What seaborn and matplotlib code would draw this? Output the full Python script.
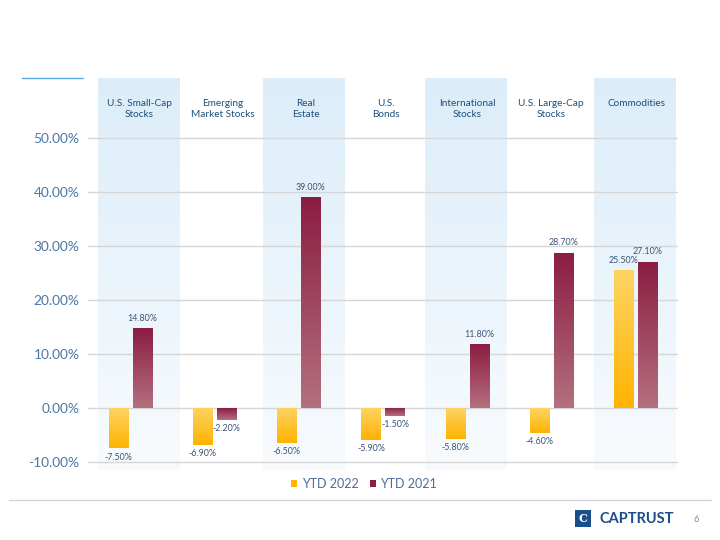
import numpy as np
import pandas as pd
import matplotlib
matplotlib.use("Agg")
import matplotlib.pyplot as plt
from matplotlib.patches import Rectangle, Patch
from matplotlib.lines import Line2D
from matplotlib.colors import to_rgba
import seaborn as sns

# ---------------- data ----------------
categories = ["U.S. Small-Cap\nStocks", "Emerging\nMarket Stocks", "Real\nEstate",
              "U.S.\nBonds", "International\nStocks", "U.S. Large-Cap\nStocks", "Commodities"]
series_names = ["YTD 2022", "YTD 2021"]
ytd_2022 = [-7.5, -6.9, -6.5, -5.9, -5.8, -4.6, 25.5]
ytd_2021 = [14.8, -2.2, 39.0, -1.5, 11.8, 28.7, 27.1]
y_ticks = [-10, 0, 10, 20, 30, 40, 50]

df = pd.DataFrame({
    "category": categories * 2,
    "series": [series_names[0]] * len(categories) + [series_names[1]] * len(categories),
    "value": ytd_2022 + ytd_2021,
})

# ---------------- style ----------------
sns.set_theme(style="white")
plt.rcParams["font.family"] = ["Lato", "DejaVu Sans"]

W, H = 720, 540
fig = plt.figure(figsize=(7.2, 5.4), dpi=100)
fig.patch.set_facecolor("white")

def fx(px):
    return px / W

def fy(py):
    return 1 - py / H

ax_left, ax_right, ax_top, ax_bottom = 88, 678, 78, 470
ax = fig.add_axes([fx(ax_left), fy(ax_bottom), fx(ax_right - ax_left), (ax_bottom - ax_top) / H])
ax.set_facecolor("none")

yellow_top, yellow_bot = "#FDD464", "#FFB300"
maroon_top, maroon_bot = "#8A1D42", "#B4707F"
palette = {series_names[0]: yellow_bot, series_names[1]: maroon_top}

sns.barplot(data=df, x="category", y="value", hue="series", palette=palette,
            width=0.57, gap=0.2, ax=ax, legend=False, saturation=1, zorder=3)

# y scale: 50% at py=138, -10% at py=462
px_per_unit = (462 - 138) / 60.0
y_max = 50 + (138 - ax_top) / px_per_unit
y_min = -10 - (ax_bottom - 462) / px_per_unit
ax.set_ylim(y_min, y_max)
ax.set_xlim(-0.5, len(categories) - 0.5)

# gradient fills on bars
grad_colors = [(yellow_top, yellow_bot), (maroon_top, maroon_bot)]
for cont, (ctop, cbot) in zip(ax.containers, grad_colors):
    t = np.linspace(0, 1, 256)[:, None]
    c0, c1 = np.array(to_rgba(ctop)), np.array(to_rgba(cbot))
    img = (c0[None, :] * (1 - t) + c1[None, :] * t)[:, None, :]
    for bar in cont:
        x0, w = bar.get_x(), bar.get_width()
        y0, h = bar.get_y(), bar.get_height()
        lo, hi = min(y0, y0 + h), max(y0, y0 + h)
        im = ax.imshow(img, extent=(x0, x0 + w, lo, hi), origin="upper",
                       aspect="auto", zorder=3, interpolation="bilinear")
        im.set_clip_path(bar)
        bar.set_facecolor("none")
        bar.set_edgecolor("none")

ax.set_ylim(y_min, y_max)
ax.set_xlim(-0.5, len(categories) - 0.5)

# value labels
label_color = "#3A5476"
for cont in ax.containers:
    for bar in cont:
        v = bar.get_height()
        xc = bar.get_x() + bar.get_width() / 2
        if v >= 0:
            ax.annotate(f"{v:.2f}%", (xc, v), xytext=(0, 4), textcoords="offset points",
                        ha="center", va="bottom", fontsize=6.4, color=label_color, zorder=5)
        else:
            ax.annotate(f"{v:.2f}%", (xc, v), xytext=(0, -3), textcoords="offset points",
                        ha="center", va="top", fontsize=6.4, color=label_color, zorder=5)

# alternating light-blue header bands (axes coords)
band_grad = np.linspace(0, 1, 256)[:, None]
b0, b1 = np.array(to_rgba("#DCEDF9")), np.array(to_rgba("#F8FBFE"))
band_img = (b0[None, :] * (1 - band_grad) + b1[None, :] * band_grad)[:, None, :]
ax_w = ax_right - ax_left
band_lefts_px = [98, 263, 425, 594]
for left_px in band_lefts_px:
    x0 = (left_px - ax_left) / ax_w
    x1 = (left_px + 82 - ax_left) / ax_w
    ax.imshow(band_img, extent=(x0, x1, 0, 1), transform=ax.transAxes, origin="upper",
              aspect="auto", zorder=0.2, interpolation="bilinear")
ax.set_ylim(y_min, y_max)
ax.set_xlim(-0.5, len(categories) - 0.5)

# grid & axes
ax.set_yticks(y_ticks)
ax.set_yticklabels([f"{v:.2f}%" for v in y_ticks], color="#4B78A6", fontsize=9.9)
ax.tick_params(axis="y", length=0, pad=6)
ax.set_xticks([])
ax.set_xlabel("")
ax.set_ylabel("")
ax.grid(False)
for v in y_ticks:
    ax.axhline(v, color="#D6D6D6", lw=1.0, zorder=1)
for s in ax.spines.values():
    s.set_visible(False)

# headers
header_centers_px = [139, 223, 306, 386, 467, 551, 636]
for cx, cat in zip(header_centers_px, categories):
    fig.text(fx(cx), fy(99.5), cat, ha="center", va="top", fontsize=7.2,
             color="#1E4F7C", linespacing=1.2)

# top-left accent line
fig.add_artist(Line2D([fx(22), fx(83)], [fy(78), fy(78)], color="#5AAAE2", lw=1.0))

# legend
handles = [Patch(facecolor=yellow_bot, edgecolor="none"), Patch(facecolor=maroon_top, edgecolor="none")]
fig.legend(handles, series_names, loc="center", bbox_to_anchor=(fx(364), fy(484)), ncol=2,
           frameon=False, fontsize=9.0, labelcolor="#4B6E96", handlelength=0.5,
           handleheight=0.5, handletextpad=0.35, columnspacing=0.9)

# footer
fig.add_artist(Line2D([fx(9), fx(711)], [fy(500), fy(500)], color="#D4D4D4", lw=1.0))
fig.add_artist(Rectangle((fx(575), fy(527)), fx(16), (527 - 510) / H, facecolor="#1B4E8C",
                         edgecolor="none", transform=fig.transFigure))
fig.text(fx(583), fy(518.5), "C", ha="center", va="center", fontsize=8, color="white",
         fontweight="bold", family=["DejaVu Serif"])
fig.text(fx(600), fy(519), "CAPTRUST", ha="left", va="center", fontsize=10.5, color="#1B4E8C",
         fontweight="bold")
fig.text(fx(696), fy(519), "6", ha="center", va="center", fontsize=6.5, color="#8A8A8A")

fig.savefig("out.png", dpi=100, facecolor="white")
